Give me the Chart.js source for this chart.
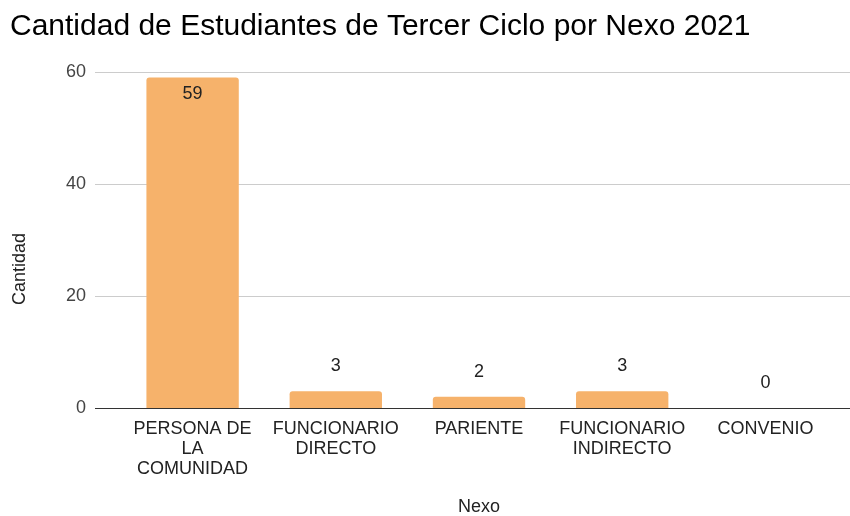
<!DOCTYPE html>
<html>
<head>
    <title>Cantidad de Estudiantes de Tercer Ciclo por Nexo 2021</title>
    <script src="https://cdn.jsdelivr.net/npm/chart.js"></script>
    <style>
        body { margin: 0; background: #fff; }
        #wrap { width: 850px; height: 516px; }
    </style>
</head>
<body>
    <div id="wrap"><canvas id="barChart"></canvas></div>

    <script>
        const categories = [["PERSONA DE", "LA", "COMUNIDAD"], ["FUNCIONARIO", "DIRECTO"], "PARIENTE", ["FUNCIONARIO", "INDIRECTO"], "CONVENIO"];
        const cantidad = [59, 3, 2, 3, 0];
        const yTicks = [0, 20, 40, 60];

        const font = "'Liberation Sans', Arial, sans-serif";

        // gridlines a bit wider than the bars area, like the sheet chart
        const gridPlugin = {
            id: "grid",
            beforeDatasetsDraw(chart) {
                const ctx = chart.ctx, y = chart.scales.y, a = chart.chartArea;
                ctx.save();
                yTicks.forEach(v => {
                    const py = Math.round(y.getPixelForValue(v)) + 0.5;
                    ctx.beginPath();
                    ctx.strokeStyle = v === 0 ? "#333333" : "#cccccc";
                    ctx.lineWidth = 1;
                    ctx.moveTo(a.left - 26, py);
                    ctx.lineTo(a.right + 14, py);
                    ctx.stroke();
                });
                ctx.restore();
            },
            afterDatasetsDraw(chart) {
                const ctx = chart.ctx;
                ctx.save();
                ctx.font = "18px " + font;
                ctx.fillStyle = "#222222";
                ctx.textAlign = "center";
                ctx.textBaseline = "middle";
                chart.getDatasetMeta(0).data.forEach((bar, i) => {
                    const h = bar.base - bar.y;
                    const ty = h > 30 ? bar.y + 16 : bar.y - 25;
                    ctx.fillText(String(cantidad[i]), bar.x, ty);
                });
                // y axis title
                ctx.translate(20, 269);
                ctx.rotate(-Math.PI / 2);
                ctx.fillText("Cantidad", 0, 0);
                ctx.restore();
            }
        };

        new Chart(document.getElementById("barChart"), {
            type: "bar",
            data: {
                labels: categories,
                datasets: [{
                    label: "Cantidad",
                    data: cantidad,
                    backgroundColor: "#f6b26b",
                    borderRadius: 3,
                    borderSkipped: "bottom",
                    barPercentage: 0.645,
                    categoryPercentage: 1
                }]
            },
            options: {
                responsive: true,
                maintainAspectRatio: false,
                animation: false,
                layout: { padding: { left: 10, right: 13, top: 0, bottom: 0 } },
                plugins: {
                    legend: { display: false },
                    tooltip: { enabled: false },
                    title: {
                        display: true,
                        text: "Cantidad de Estudiantes de Tercer Ciclo por Nexo 2021",
                        align: "start",
                        color: "#000000",
                        font: { family: font, size: 30, weight: "normal", lineHeight: 1.2 },
                        padding: { top: 9, bottom: 27 }
                    }
                },
                scales: {
                    x: {
                        grid: { display: false, drawTicks: false },
                        border: { display: false },
                        ticks: {
                            color: "#222222",
                            padding: 11,
                            maxRotation: 0,
                            autoSkip: false,
                            font: { family: font, size: 18, lineHeight: 1.11 }
                        },
                        title: {
                            display: true,
                            text: "Nexo",
                            color: "#222222",
                            font: { family: font, size: 18, lineHeight: 1 },
                            padding: { top: 0, bottom: 0 }
                        },
                        afterFit(scale) { scale.height = 108; }
                    },
                    y: {
                        min: 0,
                        max: 60,
                        afterBuildTicks(scale) { scale.ticks = yTicks.map(v => ({ value: v })); },
                        grid: { display: false, drawTicks: false },
                        border: { display: false },
                        ticks: {
                            color: "#444444",
                            padding: 35,
                            font: { family: font, size: 18 }
                        },
                        afterFit(scale) { scale.width = 111; }
                    }
                }
            },
            plugins: [gridPlugin]
        });
    </script>
</body>
</html>
